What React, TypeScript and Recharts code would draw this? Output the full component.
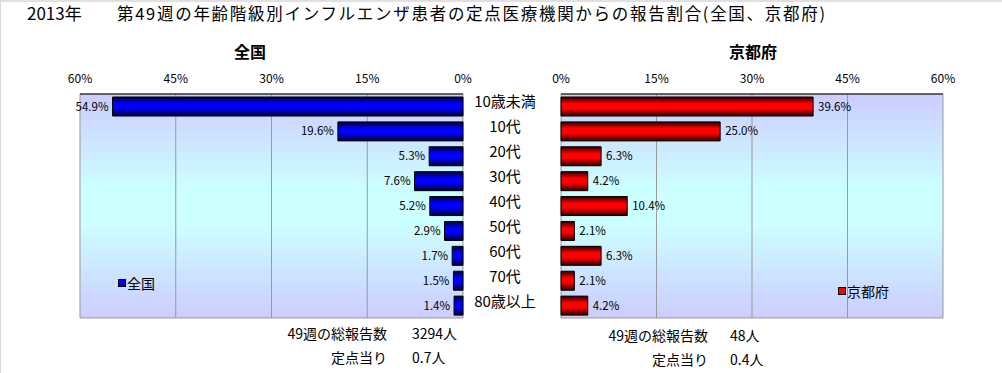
import { BarChart, Bar, XAxis, YAxis, CartesianGrid, LabelList, Legend } from "recharts";

const ageGroups = ["10歳未満", "10代", "20代", "30代", "40代", "50代", "60代", "70代", "80歳以上"];
const nationalShare = [54.9, 19.6, 5.3, 7.6, 5.2, 2.9, 1.7, 1.5, 1.4];
const kyotoShare = [39.6, 25.0, 6.3, 4.2, 10.4, 2.1, 6.3, 2.1, 4.2];
const percentTicks = [0, 15, 30, 45, 60];
const summaryLabels = ["49週の総報告数", "定点当り"];
const nationalSummary = ["3294人", "0.7人"];
const kyotoSummary = ["48人", "0.4人"];

const data = ageGroups.map((age, i) => ({ age, national: nationalShare[i], kyoto: kyotoShare[i] }));

const FONT = "'Noto Sans CJK JP', sans-serif";
const W = 1002;
const H = 373;

const PercentTick = ({ x, payload }: any) => (
  <text x={x} y={83} textAnchor="middle" fontSize={12} fontFamily={FONT} fill="#000">
    {payload.value}%
  </text>
);

const AgeTick = ({ y, payload }: any) => (
  <text x={505} y={y + 1} textAnchor="middle" fontSize={15} fontFamily={FONT} fill="#000">
    {payload.value}
  </text>
);

const LeftValue = (props: any) => {
  const x = Number(props.x), w = Number(props.width), y = Number(props.y), h = Number(props.height);
  return (
    <text x={Math.min(x, x + w) - 4} y={y + h / 2} dy="0.35em" textAnchor="end" fontSize={11.5} fontFamily={FONT} fill="#000">
      {Number(props.value).toFixed(1)}%
    </text>
  );
};

const RightValue = (props: any) => {
  const x = Number(props.x), w = Number(props.width), y = Number(props.y), h = Number(props.height);
  return (
    <text x={Math.max(x, x + w) + 5} y={y + h / 2} dy="0.35em" textAnchor="start" fontSize={11.5} fontFamily={FONT} fill="#000">
      {Number(props.value).toFixed(1)}%
    </text>
  );
};

const legendBox = (label: string, color: string) => () => (
  <div style={{ display: "flex", alignItems: "center", fontFamily: FONT, fontSize: 14, color: "#000" }}>
    <span style={{ width: 6, height: 6, background: color, border: "1px solid #000", marginRight: 1 }} />
    {label}
  </div>
);

const Defs = ({ id, dark, bright }: any) => (
  <defs>
    <linearGradient id="plotBg" x1="0" y1="0" x2="0" y2="1">
      <stop offset="0" stopColor="#ccccff" />
      <stop offset="0.42" stopColor="#ccffff" />
      <stop offset="0.58" stopColor="#ccffff" />
      <stop offset="1" stopColor="#ccccff" />
    </linearGradient>
    <linearGradient id={id} x1="0" y1="0" x2="0" y2="1">
      <stop offset="0" stopColor={dark} />
      <stop offset="0.35" stopColor={bright} />
      <stop offset="0.6" stopColor={bright} />
      <stop offset="1" stopColor={dark} />
    </linearGradient>
  </defs>
);

const gridRows = ({ offset }: any) => [offset.top, offset.top + offset.height];

export default function App() {
  return (
    <div
      style={{
        position: "absolute",
        left: 0,
        top: 0,
        width: W,
        height: H,
        background: "#fff",
        borderLeft: "1px solid #d8d8d8",
        borderTop: "2px solid #e0e0e0",
        boxSizing: "border-box",
        overflow: "hidden",
      }}
    >
      <div style={{ position: "absolute", left: -1, top: -2 }}>
        <BarChart width={W} height={H} data={data} layout="vertical" barSize={19}
          margin={{ top: 74, right: 442, bottom: 55, left: 80 }}>
          <Defs id="blueBar" dark="#00002a" bright="#0000ff" />
          <CartesianGrid fill="url(#plotBg)" stroke="#999" horizontalCoordinatesGenerator={gridRows} />
          <XAxis type="number" domain={[0, 60]} reversed orientation="top" ticks={percentTicks}
            height={20} tickLine={false} axisLine={{ stroke: "#000" }} tick={<PercentTick />} />
          <YAxis type="category" dataKey="age" orientation="right" width={97}
            axisLine={false} tickLine={false} tick={<AgeTick />} interval={0} />
          <Bar dataKey="national" name="全国" fill="url(#blueBar)" stroke="#000" strokeWidth={1} isAnimationActive={false}>
            <LabelList dataKey="national" content={<LeftValue />} />
          </Bar>
          <Legend layout="horizontal" verticalAlign="middle" align="center" content={legendBox("全国", "#0000ff")}
            wrapperStyle={{ left: 118, top: 273, width: 60, bottom: "auto" }} />
        </BarChart>
      </div>
      <div style={{ position: "absolute", left: -1, top: -2 }}>
        <BarChart width={W} height={H} data={data} layout="vertical" barSize={19}
          margin={{ top: 74, right: 59, bottom: 55, left: 561 }}>
          <Defs id="redBar" dark="#2a0000" bright="#ff0000" />
          <CartesianGrid fill="url(#plotBg)" stroke="#999" horizontalCoordinatesGenerator={gridRows} />
          <XAxis type="number" domain={[0, 60]} orientation="top" ticks={percentTicks}
            height={20} tickLine={false} axisLine={{ stroke: "#000" }} tick={<PercentTick />} />
          <YAxis type="category" dataKey="age" hide />
          <Bar dataKey="kyoto" name="京都府" fill="url(#redBar)" stroke="#000" strokeWidth={1} isAnimationActive={false}>
            <LabelList dataKey="kyoto" content={<RightValue />} />
          </Bar>
          <Legend layout="horizontal" verticalAlign="middle" align="center" content={legendBox("京都府", "#ff0000")}
            wrapperStyle={{ left: 838, top: 281, width: 70, bottom: "auto" }} />
        </BarChart>
      </div>
      <svg width={W} height={H} style={{ position: "absolute", left: -1, top: -2, pointerEvents: "none" }} fontFamily={FONT}>
        <text x={27} y={20} fontSize={17} fill="#000">2013年</text>
        <text x={117} y={20} fontSize={16.5} fill="#000" textLength={708} lengthAdjust="spacing">
          第49週の年齢階級別インフルエンザ患者の定点医療機関からの報告割合(全国、京都府)
        </text>
        <text x={250} y={58} fontSize={16} fontWeight="bold" textAnchor="middle" fill="#000">全国</text>
        <text x={753} y={58} fontSize={16} fontWeight="bold" textAnchor="middle" fill="#000">京都府</text>
        {summaryLabels.map((label, i) => (
          <g key={label}>
            <text x={387} y={339 + i * 24} fontSize={14} textAnchor="end" fill="#000">{label}</text>
            <text x={412} y={339 + i * 24} fontSize={14} fill="#000">{nationalSummary[i]}</text>
            <text x={708} y={341 + i * 24} fontSize={14} textAnchor="end" fill="#000">{label}</text>
            <text x={730} y={341 + i * 24} fontSize={14} fill="#000">{kyotoSummary[i]}</text>
          </g>
        ))}
      </svg>
    </div>
  );
}
